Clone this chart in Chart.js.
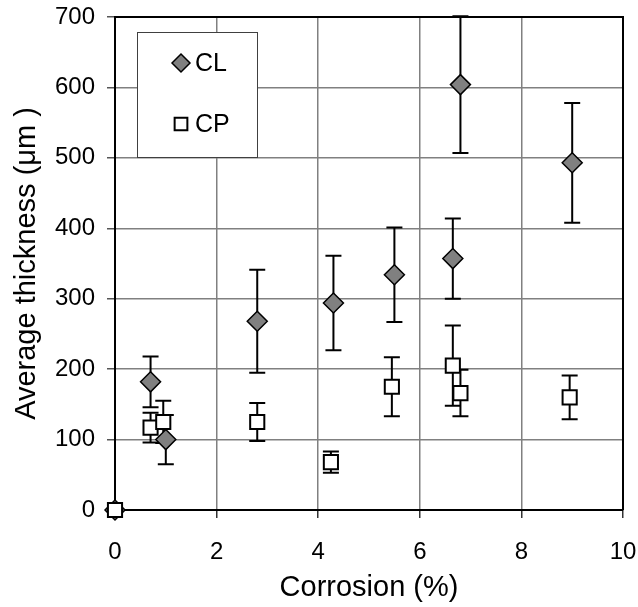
<!DOCTYPE html>
<html>
<head>
<meta charset="utf-8">
<script src="https://cdn.jsdelivr.net/npm/chart.js@4.4.0/dist/chart.umd.min.js"></script>
<style>
  body { margin: 0; background: #fff; }
</style>
</head>
<body>
<canvas id="myChart" width="638" height="607"></canvas>
<script>
// CL series (diamonds)
const clX = [0, 0.7, 1.0, 2.8, 4.3, 5.5, 6.65, 6.8, 9.0];
const clY = [0, 182, 100, 268, 294, 334, 357, 604, 493];
const clErr = [0, 36, 35, 73, 67, 67, 57, 97, 85];

// CP series (squares)
const cpX = [0, 0.7, 0.95, 2.8, 4.25, 5.45, 6.65, 6.8, 8.95];
const cpY = [0, 117, 125, 125, 68, 175, 205, 166, 160];
const cpErr = [0, 21, 30, 27, 15, 42, 57, 33, 31];

const xTicks = [0, 2, 4, 6, 8, 10];
const yTicks = [0, 100, 200, 300, 400, 500, 600, 700];

Chart.defaults.font.family = 'Arial, "Liberation Sans", sans-serif';
Chart.defaults.color = '#000';

const toPoints = (xs, ys) => xs.map((x, i) => ({x: x, y: ys[i]}));

// error bars + top/right frame, drawn under the markers
const errorBars = {
  id: 'errorBars',
  beforeDatasetsDraw(chart) {
    const ctx = chart.ctx;
    const xs = chart.scales.x, ys = chart.scales.y;
    const a = chart.chartArea;
    ctx.save();
    ctx.strokeStyle = '#000';
    ctx.lineWidth = 2;
    ctx.beginPath();
    ctx.moveTo(a.left, a.top);
    ctx.lineTo(a.right, a.top);
    ctx.lineTo(a.right, a.bottom);
    ctx.stroke();
    chart.data.datasets.forEach(ds => {
      ds.data.forEach((p, i) => {
        const e = ds.errors[i];
        if (!e) return;
        const px = xs.getPixelForValue(p.x);
        const top = ys.getPixelForValue(p.y + e);
        const bot = ys.getPixelForValue(p.y - e);
        ctx.beginPath();
        ctx.moveTo(px, top); ctx.lineTo(px, bot);
        ctx.moveTo(px - 8, top); ctx.lineTo(px + 8, top);
        ctx.moveTo(px - 8, bot); ctx.lineTo(px + 8, bot);
        ctx.stroke();
      });
    });
    ctx.restore();
  }
};

// boxed legend inside the plot, top-left
const boxLegend = {
  id: 'boxLegend',
  afterDatasetsDraw(chart) {
    const ctx = chart.ctx;
    const a = chart.chartArea;
    const bx = a.left + 22, by = a.top + 15;
    ctx.save();
    ctx.fillStyle = '#fff';
    ctx.fillRect(bx, by, 120, 125);
    ctx.strokeStyle = '#404040';
    ctx.lineWidth = 1;
    ctx.strokeRect(bx + 0.5, by + 0.5, 120, 125);
    chart.data.datasets.forEach((ds, i) => {
      const my = by + 31 + i * 61;
      ctx.fillStyle = ds.backgroundColor;
      ctx.strokeStyle = ds.borderColor;
      ctx.lineWidth = ds.borderWidth;
      Chart.helpers.drawPoint(ctx, {
        pointStyle: ds.pointStyle,
        radius: ds.pointRadius - 1,
        rotation: 0,
        borderWidth: ds.borderWidth
      }, bx + 44, my);
      ctx.fillStyle = '#000';
      ctx.font = '25px Arial, "Liberation Sans", sans-serif';
      ctx.textBaseline = 'middle';
      ctx.fillText(ds.label, bx + 58, my + 1);
    });
    ctx.restore();
  }
};

const ctx = document.getElementById('myChart').getContext('2d');
const chart = new Chart(ctx, {
  type: 'scatter',
  data: {
    datasets: [{
      label: 'CL',
      data: toPoints(clX, clY),
      errors: clErr,
      order: 1,
      pointStyle: 'rectRot',
      pointRadius: 10,
      backgroundColor: '#808080',
      borderColor: '#000',
      borderWidth: 1.5
    }, {
      label: 'CP',
      data: toPoints(cpX, cpY),
      errors: cpErr,
      order: 0,
      pointStyle: 'rect',
      pointRadius: 10,
      backgroundColor: '#fff',
      borderColor: '#000',
      borderWidth: 2
    }]
  },
  options: {
    responsive: false,
    animation: false,
    devicePixelRatio: 1,
    clip: false,
    layout: {
      autoPadding: false,
      padding: {top: 17, right: 15, left: 0, bottom: 0}
    },
    plugins: {
      legend: {display: false},
      tooltip: {enabled: false}
    },
    scales: {
      x: {
        type: 'linear',
        min: 0,
        max: 10,
        afterFit: s => { s.height = 97; s.paddingLeft = 0; s.paddingRight = 0; },
        afterBuildTicks: s => { s.ticks = xTicks.map(v => ({value: v})); },
        ticks: {font: {size: 24}, padding: 20, maxRotation: 0},
        grid: {color: '#808080', lineWidth: 1.5, tickLength: 8, tickColor: '#333'},
        border: {color: '#000', width: 2},
        title: {display: true, text: 'Corrosion (%)', font: {size: 29}, padding: {top: 0, bottom: 2}}
      },
      y: {
        min: 0,
        max: 700,
        afterFit: s => { s.width = 115; s.paddingTop = 0; s.paddingBottom = 0; },
        afterBuildTicks: s => { s.ticks = yTicks.map(v => ({value: v})); },
        ticks: {font: {size: 24}, padding: 12},
        grid: {color: '#808080', lineWidth: 1.5, tickLength: 8, tickColor: '#555'},
        border: {color: '#000', width: 2},
        title: {display: true, text: 'Average thickness (\u03bcm )', font: {size: 29}, padding: {top: 10, bottom: 0}}
      }
    }
  },
  plugins: [errorBars, boxLegend]
});
</script>
</body>
</html>
